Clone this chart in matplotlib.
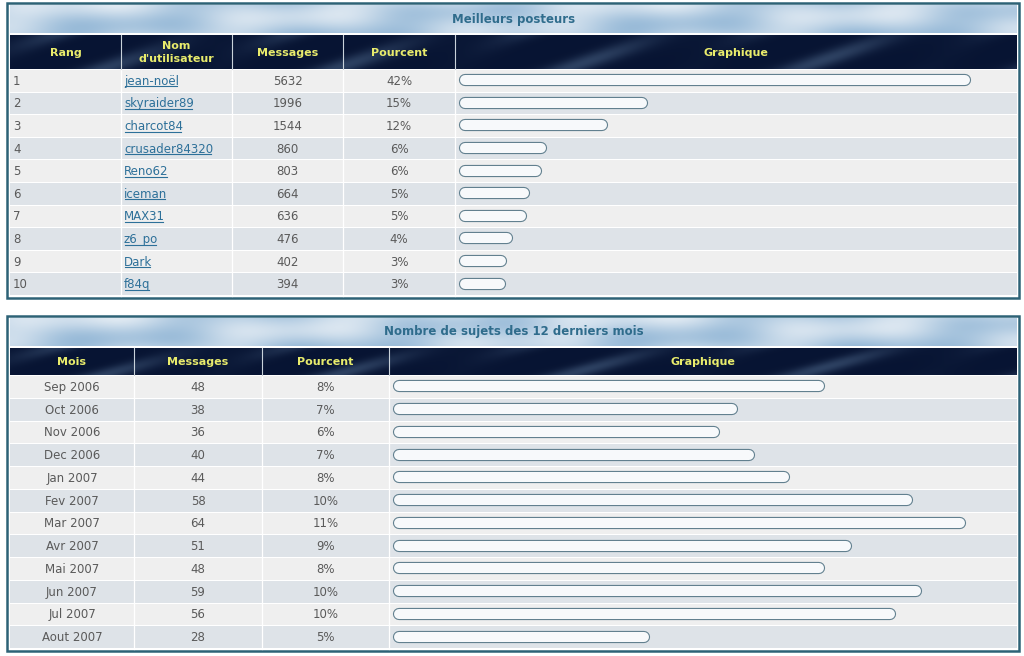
import matplotlib.pyplot as plt
import numpy as np
from matplotlib import patheffects as pe
from matplotlib.patches import Rectangle

# Meilleurs posteurs
rangs = list(range(1, 11))
utilisateurs = ["jean-noël", "skyraider89", "charcot84", "crusader84320", "Reno62",
                "iceman", "MAX31", "z6_po", "Dark", "f84q"]
messages_posteurs = [5632, 1996, 1544, 860, 803, 664, 636, 476, 402, 394]
pourcents_posteurs = [42, 15, 12, 6, 6, 5, 5, 4, 3, 3]

# Nombre de sujets des 12 derniers mois
mois = ["Sep 2006", "Oct 2006", "Nov 2006", "Dec 2006", "Jan 2007", "Fev 2007",
        "Mar 2007", "Avr 2007", "Mai 2007", "Jun 2007", "Jul 2007", "Aout 2007"]
messages_mois = [48, 38, 36, 40, 44, 58, 64, 51, 48, 59, 56, 28]
pourcents_mois = [8, 7, 6, 7, 8, 10, 11, 9, 8, 10, 10, 5]

W, H = 1024, 656
BORDER = "#2d6276"
HEAD_TXT = "#e9ec6c"
ROW_A = "#efefef"
ROW_B = "#dee3e8"
TXT = "#5a5a5a"
LINK = "#2d7099"
FONT = "DejaVu Sans"

fig = plt.figure(figsize=(W / 100, H / 100), dpi=100)
ax = fig.add_axes([0, 0, 1, 1])
ax.set_xlim(0, W)
ax.set_ylim(H, 0)
ax.set_autoscale_on(False)
ax.axis("off")


def cloud_band(x0, x1, y0, y1):
    # decorative sky texture for the title band
    xs = np.linspace(0, 1, 400)
    ys = np.linspace(0, 1, 30)
    gx, gy = np.meshgrid(xs, ys)
    t = (0.55 + 0.18 * np.sin(gx * 23 + gy * 3) + 0.12 * np.sin(gx * 57 + 1.3)
         + 0.10 * np.sin(gx * 11 - gy * 5 + 0.7) - 0.15 * gy)
    t = np.clip(t, 0, 1)[..., None]
    sky = np.array([0.55, 0.70, 0.83])
    white = np.array([0.93, 0.95, 0.97])
    img = sky * (1 - t) + white * t
    ax.imshow(img, extent=(x0, x1, y1, y0), aspect="auto", zorder=1,
              interpolation="bilinear")


def header_band(x0, x1, y0, y1):
    xs = np.linspace(0, 1, 400)
    ys = np.linspace(0, 1, 30)
    gx, gy = np.meshgrid(xs, ys)
    t = 0.5 + 0.5 * np.sin(gx * 41 + gy * 4) * np.sin(gx * 13 + 0.5)
    t = (np.clip(t, 0, 1) ** 4)[..., None] * 0.35
    dark = np.array([0.03, 0.08, 0.20])
    light = np.array([0.45, 0.58, 0.72])
    img = dark * (1 - t) + light * t
    ax.imshow(img, extent=(x0, x1, y1, y0), aspect="auto", zorder=1,
              interpolation="bilinear")


def underline(txt):
    fig.canvas.draw()
    bb = txt.get_window_extent().transformed(ax.transData.inverted())
    y = max(bb.y0, bb.y1) - 1.5
    ax.plot([bb.x0 + 0.5, bb.x1 - 2], [y, y], color=LINK, lw=0.8, zorder=4)


def draw_table(top, bottom, title, head_h, edges, headers, columns, aligns, links,
               values, px0, scale):
    left, right = edges[0], edges[-1]
    ax.add_patch(Rectangle((7, top), 1012, bottom - top, facecolor="white",
                           edgecolor=BORDER, lw=1.8, zorder=0))
    title_bot = top + 30
    head_top = title_bot + 2
    head_bot = head_top + head_h
    cloud_band(left, right, top + 2, title_bot)
    ax.text((left + right) / 2, top + 16, title, ha="center", va="center",
            color="#2f6c8c", fontsize=8.5, fontweight="bold", family=FONT, zorder=3)
    header_band(left, right, head_top, head_bot)
    for i, h in enumerate(headers):
        ax.text((edges[i] + edges[i + 1]) / 2, (head_top + head_bot) / 2 + 0.5, h,
                ha="center", va="center", color=HEAD_TXT, fontsize=8,
                fontweight="bold", family=FONT, linespacing=1.3, zorder=3)
    for e in edges[1:-1]:
        ax.plot([e, e], [head_top, head_bot], color="#c9d2da", lw=0.8, zorder=3)

    n = len(values)
    body_top = head_bot + 1
    body_bot = bottom - 2
    row_h = (body_bot - body_top) / n
    for r in range(n):
        y0 = body_top + r * row_h
        ax.add_patch(Rectangle((left, y0), right - left, row_h - 1,
                               facecolor=ROW_A if r % 2 == 0 else ROW_B,
                               edgecolor="none", zorder=1))
        yc = y0 + row_h / 2
        for c, col in enumerate(columns):
            if aligns[c] == "left":
                x, ha = edges[c] + 3, "left"
            else:
                x, ha = (edges[c] + edges[c + 1]) / 2, "center"
            t = ax.text(x, yc, str(col[r]), ha=ha, va="center", fontsize=8.5,
                        family=FONT, color=LINK if links[c] else TXT, zorder=3)
            if links[c]:
                underline(t)
    for e in edges[1:-1]:
        ax.plot([e, e], [body_top, body_bot], color="white", lw=0.9, zorder=2)

    # bar column, in message units
    gx0, gx1 = edges[-2] + 1, right
    bax = fig.add_axes([gx0 / W, 1 - (body_bot - 1) / H, (gx1 - gx0) / W,
                        (body_bot - body_top) / H])
    bax.set_xlim((gx0 - px0) / scale, (gx1 - px0) / scale)
    bax.set_ylim(n - 0.5, -0.5)
    bax.axis("off")
    for r, v in enumerate(values):
        bax.plot([0, v], [r, r], color="#f7f9fb", lw=7.2, solid_capstyle="round",
                 path_effects=[pe.Stroke(linewidth=8.8, foreground="#62808f"),
                               pe.Normal()])


draw_table(3, 298, "Meilleurs posteurs", 34,
           [10, 121, 232, 343, 455, 1017],
           ["Rang", "Nom\nd'utilisateur", "Messages", "Pourcent", "Graphique"],
           [rangs, utilisateurs, messages_posteurs,
            [f"{p}%" for p in pourcents_posteurs]],
           ["left", "left", "center", "center"],
           [False, True, False, False],
           messages_posteurs, 465.0, 0.0887)

draw_table(316, 651, "Nombre de sujets des 12 derniers mois", 27,
           [10, 134, 262, 389, 1017],
           ["Mois", "Messages", "Pourcent", "Graphique"],
           [mois, messages_mois, [f"{p}%" for p in pourcents_mois]],
           ["center", "center", "center"],
           [False, False, False],
           messages_mois, 399.0, 8.76)

fig.savefig("out.png", dpi=100)
